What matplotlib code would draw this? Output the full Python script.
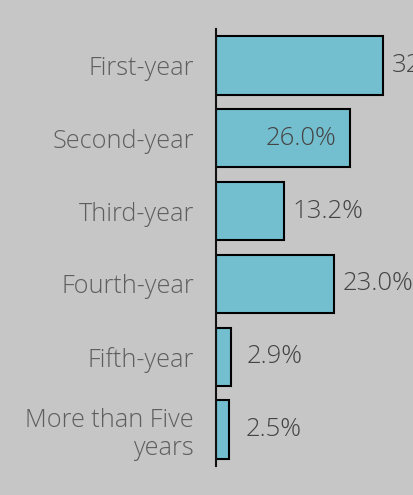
import matplotlib
matplotlib.use("Agg")
import matplotlib.pyplot as plt

categories = ["First-year", "Second-year", "Third-year", "Fourth-year",
              "Fifth-year", "More than Five\nyears"]
shares = [32.4, 26.0, 13.2, 23.0, 2.9, 2.5]
share_labels = ["32.4%", "26.0%", "13.2%", "23.0%", "2.9%", "2.5%"]

BG = "#c6c6c6"
BAR = "#74bfcf"

plt.rcParams["font.family"] = ["Open Sans", "DejaVu Sans"]

fig = plt.figure(figsize=(4.14, 4.95), dpi=100, facecolor=BG)
# axes from x=216 px to far right (clipped), y from 29 to 466 px
ax = fig.add_axes([216 / 414, 1 - 466 / 495, 270 / 414, 437 / 495])
ax.set_facecolor(BG)

ypos = list(range(len(categories)))
ax.barh(ypos, shares, height=0.8, color=BAR, edgecolor="black", linewidth=1.5)
ax.set_ylim(len(categories) - 0.5, -0.5)
ax.set_xlim(0, 270 / 5.15)

ax.set_yticks(ypos)
ax.set_yticklabels(categories, fontsize=18.2, color="#5e5e5e",
                   linespacing=1.2, fontweight="light")
ax.tick_params(axis="y", length=0, pad=16)
ax.set_xticks([])
for s in ["top", "right", "bottom"]:
    ax.spines[s].set_visible(False)
ax.spines["left"].set_linewidth(1.5)
ax.spines["left"].set_color("#111111")

offsets = [6.5, -9.4, 5.8, 5.8, 11.5, 12]
for y, v, lab, off in zip(ypos, shares, share_labels, offsets):
    ax.annotate(lab, (v, y), xytext=(off, 0), textcoords="offset points",
                ha="left" if off > 0 else "right", va="center",
                fontsize=18.5, color="#444444", fontweight="light",
                annotation_clip=False)

fig.savefig("out.png", dpi=100, facecolor=BG)
